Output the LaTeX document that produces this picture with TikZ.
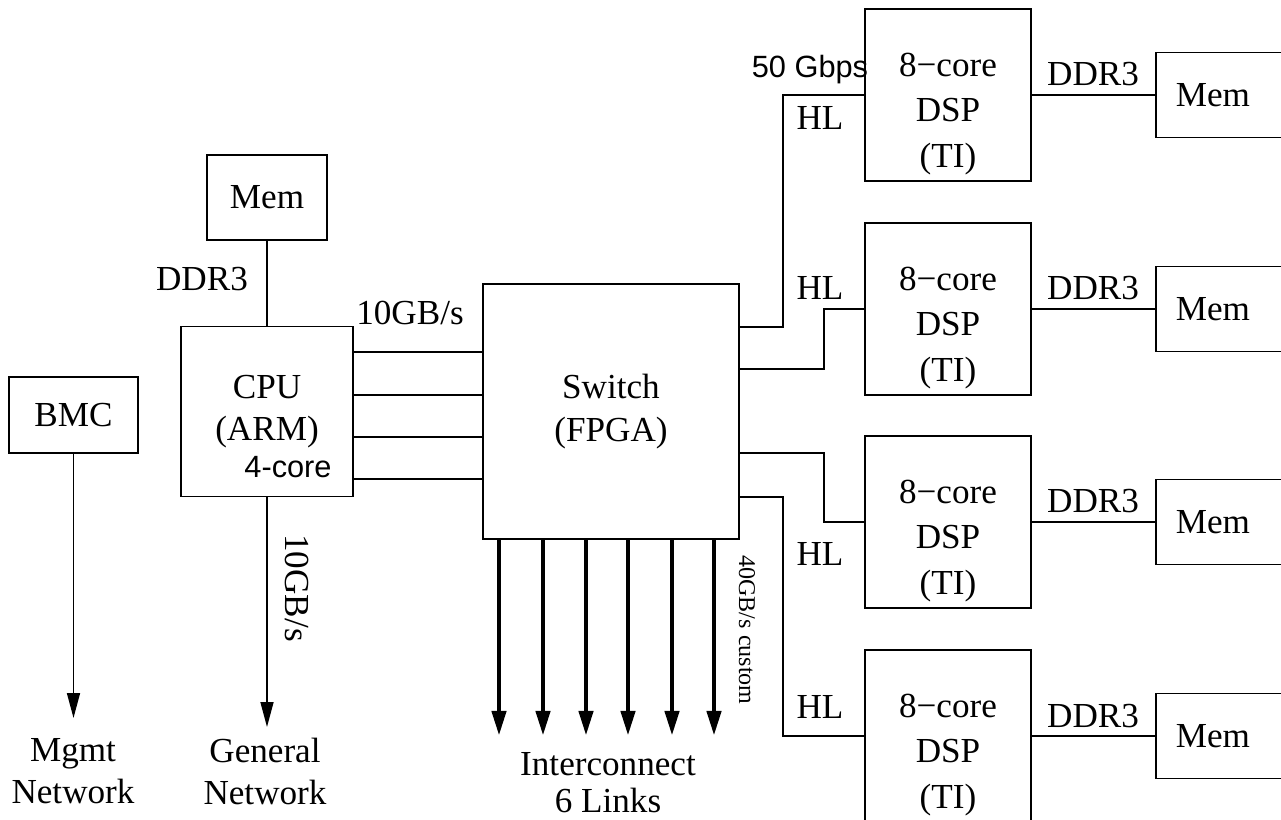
\documentclass[tikz,border=0pt]{standalone}
\usepackage{fontspec}
\setmainfont{Liberation Serif}
\newfontfamily\arialfont{Liberation Sans}
\usetikzlibrary{arrows.meta,positioning}

\begin{document}
\begin{tikzpicture}[x=0.02cm,y=-0.02cm,line width=0.9pt,
    font=\fontsize{20}{24}\selectfont,
    box/.style={draw,align=center,inner sep=0pt},
    dspbox/.style={box,minimum width=3.32cm,minimum height=3.44cm,
      label={[align=center,yshift=-0.38cm,font=\fontsize{20}{26}\selectfont]center:{8−core\\DSP\\(TI)}}},
    membox/.style={box,anchor=west,minimum width=3cm,minimum height=1.7cm,
      text width=2.2cm,align=left,inner xsep=0.4cm},
    sanslbl/.style={font=\arialfont\fontsize{17.5}{21}\selectfont},
    net/.style={-{Triangle[length=0.5cm,width=0.26cm]}},
    bus/.style={line width=2.6pt,-{Triangle[length=0.5cm,width=0.28cm]}}]
    \useasboundingbox (0,0) rectangle (1281,820);
    \clip (0,0) rectangle (1281,820);

    \node[box,minimum width=2.58cm,minimum height=1.52cm] (bmc) at (73.5,415) {BMC};
    \node[box,minimum width=2.4cm,minimum height=1.7cm] (cpumem) at (267,197.5) {Mem};
    \node[box,minimum width=3.44cm,minimum height=3.4cm] (cpu) at (267,411.5) {CPU\\(ARM)};
    \node[sanslbl,anchor=base] (cores) at (288,478) {4-core};
    \node[box,minimum width=5.12cm,minimum height=5.1cm] (switch) at (611,411.5) {Switch\\(FPGA)};

    \node[align=center] (mgmt) at (73,771.5) {Mgmt\\Network};
    \node[align=center] (general) at (265,771.5) {General\\Network};
    \node[align=center] (ic) at (608,783) {Interconnect\\[-3pt]6 Links};
    \coordinate (mgmtin) at (73.5,718);
    \coordinate (netin) at (267,727);

    \draw (cpumem) -- (cpu);
    \node[anchor=base] (ddrcpu) at (202,291) {DDR3};
    \draw[net] (bmc) -- (mgmtin);
    \draw[net] (cpu) -- (netin);
    \node[rotate=-90] (netbw) at (297,588) {10GB/s};

    \foreach \y in {352,395,437,479}
      \draw (cpu.east |- 0,\y) -- (switch.west |- 0,\y);
    \node[anchor=base] (cpubw) at (410,325) {10GB/s};

    \foreach \x in {499,543,586,628,672,714}
      \draw[bus] (switch.south -| \x,0) -- ++(0,196);
    \node[rotate=-90,font=\fontsize{13.7}{16}\selectfont] (icbw) at (747,630) {40GB/s custom};

    \foreach \i/\y in {1/95,2/309,3/522,4/736} {
      \node[dspbox] (dsp\i) at (948,\y) {};
      \node[membox] (mem\i) at (1155,\y) {Mem};
      \draw (dsp\i) -- (mem\i);
      \node[anchor=base] (ddr\i) at (1093,\y-9) {DDR3};
    }

    \draw ([yshift=1.69cm]switch.east) -- ++(43,0) |- (dsp1.west);
    \draw ([yshift=0.85cm]switch.east) -- ++(84,0) |- (dsp2.west);
    \draw ([yshift=-0.83cm]switch.east) -- ++(84,0) |- (dsp3.west);
    \draw ([yshift=-1.71cm]switch.east) -- ++(43,0) |- (dsp4.west);
    \node[anchor=base] (hl1) at (820,130) {HL};
    \node[anchor=base] (hl2) at (820,300) {HL};
    \node[anchor=base] (hl3) at (820,565) {HL};
    \node[anchor=base] (hl4) at (820,718) {HL};
    \node[sanslbl,anchor=base] (rate) at (810,78) {50 Gbps};
  \end{tikzpicture}
\end{document}
